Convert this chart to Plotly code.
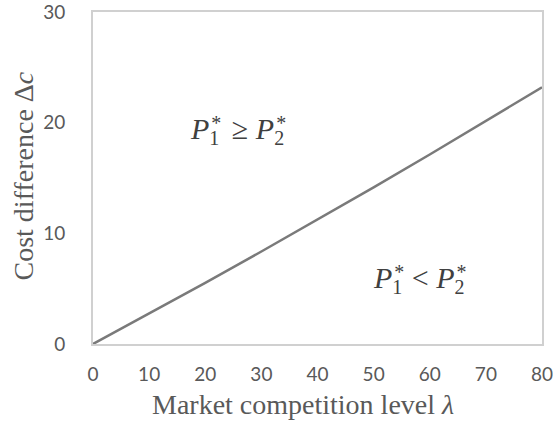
import plotly.graph_objects as go

# Threshold curve: cost difference at which optimal prices swap order
competition_level = [0, 10, 20, 30, 40, 50, 60, 70, 80]
cost_difference = [0, 2.74, 5.53, 8.36, 11.24, 14.16, 17.12, 20.13, 23.2]

x_ticks = [0, 10, 20, 30, 40, 50, 60, 70, 80]
y_ticks = [0, 10, 20, 30]

TEXT_GRAY = "#595959"
FRAME_GRAY = "#d0d0d0"
SERIF = "Liberation Serif"
W, H = 553, 426
M_L, M_R, M_T, M_B = 93, 11, 12, 82

fig = go.Figure()
fig.add_trace(go.Scatter(
    x=competition_level, y=cost_difference, mode="lines",
    line=dict(color="#7a7a7a", width=2.5), showlegend=False,
    hoverinfo="skip",
))


def price(idx, gap=0):
    # P with subscript index and a star stacked above it
    return ("<i>P</i>"
            "<span style=\"font-size:20px;baseline-shift:-6px;letter-spacing:-8px\">%s</span>"
            "<span style=\"font-size:20px;baseline-shift:9px;letter-spacing:%dpx\">*</span>"
            % (idx, gap))


regions = [
    (16.93, 19.3, price(1, 3) + " \u2265 " + price(2)),
    (49.55, 5.8, price(1) + " &lt; " + price(2)),
]
for x, y, text in regions:
    fig.add_annotation(
        x=x, y=y, xref="x", yref="y", text=text, showarrow=False,
        xanchor="left", yanchor="middle",
        font=dict(family=SERIF, size=30, color="#404040"),
    )


def px_to_paper(px, py):
    return ((px - M_L) / (W - M_L - M_R), (H - M_B - py) / (H - M_T - M_B))


# axis titles placed at fixed pixel centres
tx, ty = px_to_paper(302.5, 404)
fig.add_annotation(
    x=tx, y=ty, xref="paper", yref="paper", text="Market competition level <i>\u03bb</i>",
    showarrow=False, xanchor="center", yanchor="middle",
    font=dict(family=SERIF, size=28, color=TEXT_GRAY),
)
tx, ty = px_to_paper(23, 176.5)
fig.add_annotation(
    x=tx, y=ty, xref="paper", yref="paper", text="Cost difference \u0394<i>c</i>",
    showarrow=False, xanchor="center", yanchor="middle", textangle=-90,
    font=dict(family=SERIF, size=28, color=TEXT_GRAY),
)

fig.update_layout(
    width=W, height=H,
    margin=dict(l=M_L, r=M_R, t=M_T, b=M_B),
    paper_bgcolor="white", plot_bgcolor="white",
    xaxis=dict(
        range=[0, 80], tickvals=x_ticks, showgrid=False, zeroline=False,
        showline=True, linecolor=FRAME_GRAY, linewidth=2, mirror=True,
        ticks="", ticklabelstandoff=12, ticklabeloverflow="allow", automargin=False,
        tickfont=dict(family="Lato", size=19, color=TEXT_GRAY),
    ),
    yaxis=dict(
        range=[0, 30], tickvals=y_ticks, showgrid=False, zeroline=False,
        showline=True, linecolor=FRAME_GRAY, linewidth=2, mirror=True,
        ticks="", ticklabelstandoff=22, ticklabeloverflow="allow", automargin=False,
        tickfont=dict(family="Lato", size=19, color=TEXT_GRAY),
    ),
)

fig.write_html("out.html")
